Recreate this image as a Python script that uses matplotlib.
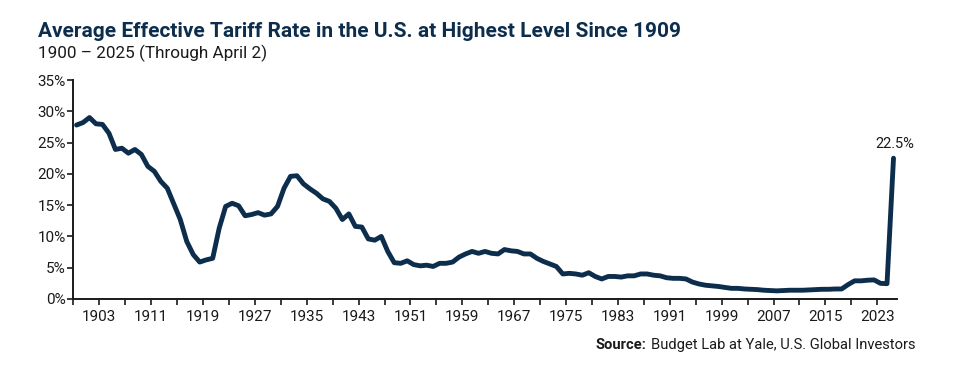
import matplotlib
matplotlib.use("Agg")
import matplotlib.pyplot as plt
import numpy as np

# average effective tariff rate (%), one point per category
categories = [str(y) for y in range(1900, 2025)] + ["2025 pre", "2025"]
rates = [
    27.8, 28.2, 29.0, 28.0, 27.9, 26.5, 23.9, 24.1, 23.3, 23.9,
    23.1, 21.2, 20.4, 18.8, 17.7, 15.2, 12.7, 9.2, 7.1, 5.9,
    6.25, 6.5, 11.3, 14.8, 15.3, 14.9, 13.3, 13.5, 13.8, 13.4,
    13.6, 14.8, 17.7, 19.6, 19.7, 18.4, 17.6, 16.9, 16.0, 15.6,
    14.5, 12.7, 13.6, 11.6, 11.5, 9.6, 9.4, 10.0, 7.6, 5.8,
    5.7, 6.1, 5.5, 5.3, 5.4, 5.2, 5.7, 5.7, 5.9, 6.7,
    7.2, 7.6, 7.3, 7.6, 7.3, 7.2, 7.9, 7.7, 7.6, 7.2,
    7.2, 6.5, 6.0, 5.6, 5.2, 4.0, 4.1, 4.0, 3.8, 4.2,
    3.6, 3.2, 3.6, 3.6, 3.5, 3.7, 3.7, 4.0, 4.0, 3.8,
    3.7, 3.4, 3.3, 3.3, 3.2, 2.7, 2.4, 2.2, 2.1, 2.0,
    1.85, 1.7, 1.7, 1.6, 1.55, 1.5, 1.4, 1.35, 1.3, 1.35,
    1.4, 1.4, 1.4, 1.45, 1.5, 1.55, 1.55, 1.6, 1.6, 2.3,
    2.9, 2.9, 3.0, 3.05, 2.5, 2.45, 22.5,
]
tick_labels = ["1903", "1911", "1919", "1927", "1935", "1943", "1951", "1959",
               "1967", "1975", "1983", "1991", "1999", "2007", "2015", "2023"]
y_ticks = [0, 5, 10, 15, 20, 25, 30, 35]

navy = "#0c2d4c"
dark = "#1a1a1a"
font = "Roboto"

x = np.arange(len(rates))

fig = plt.figure(figsize=(9.63, 3.66), dpi=100)
ax = fig.add_axes([0.0761, 0.1831, 0.8551, 0.5983])

ax.plot(x, rates, color=navy, linewidth=3.5, solid_joinstyle="round",
        solid_capstyle="round")

# ticks sit between categories, every 4 years
tick_pos = np.arange(-0.5, len(rates), 4)
lab_idx = {categories.index(t): t for t in tick_labels}
tick_text = []
for p in tick_pos:
    i = int(p - 0.5)
    tick_text.append(lab_idx.get(i, ""))
ax.set_xticks(tick_pos)
ax.set_xticklabels(tick_text, fontname=font, fontsize=11, color=dark)
ax.set_xlim(-0.5, len(rates) - 0.5)

ax.set_ylim(0, 35)
ax.set_yticks(y_ticks)
ax.set_yticklabels(["%d%%" % v for v in y_ticks], fontname=font, fontsize=11,
                   color=dark)

ax.tick_params(axis="x", direction="out", length=4, width=1.2, pad=4,
               colors=dark)
ax.tick_params(axis="y", direction="out", length=4, width=1.2, pad=1.5,
               colors=dark)
for s in ["top", "right"]:
    ax.spines[s].set_visible(False)
for s in ["left", "bottom"]:
    ax.spines[s].set_linewidth(1.4)
    ax.spines[s].set_color(dark)

ax.annotate("%.1f%%" % rates[-1], xy=(x[-1], rates[-1]), xytext=(1, 5),
            textcoords="offset points", ha="center", va="bottom",
            fontname=font, fontsize=10.5, color=dark)

fig.text(38 / 963, 1 - 37 / 366,
         "Average Effective Tariff Rate in the U.S. at Highest Level Since 1909",
         fontname=font, fontweight="bold", fontsize=15, color=navy,
         va="baseline", ha="left")
fig.text(38 / 963, 1 - 58 / 366, "1900 \u2013 2025 (Through April 2)",
         fontname=font, fontsize=12.3, color=dark, va="baseline", ha="left")

src = fig.text(915 / 963, 1 - 349 / 366,
               "Budget Lab at Yale, U.S. Global Investors",
               fontname=font, fontsize=10.6, color=dark, va="baseline", ha="right")
fig.canvas.draw()
bb = src.get_window_extent()
fig.text(bb.x0 - 4, (1 - 349 / 366) * fig.bbox.height,
         "Source:", transform=None, fontname=font, fontweight="bold",
         fontsize=10.6, color=dark, va="baseline", ha="right")

fig.savefig("out.png", dpi=100)
